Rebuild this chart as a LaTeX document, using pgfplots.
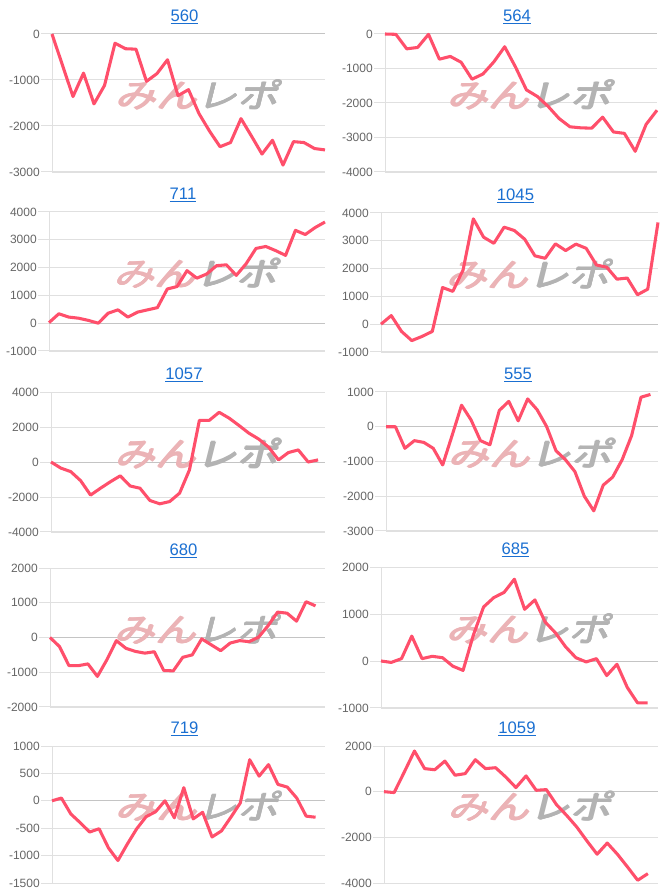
\documentclass[border=0pt]{standalone}
\usepackage{pgfplots}
\pgfplotsset{compat=1.18}
\usepackage{fontspec}
\setmainfont{Liberation Sans}
\newfontfamily\cjk{Noto Sans CJK JP}
\definecolor{linec}{HTML}{FF4F6B}
\definecolor{titleblue}{HTML}{1A6FD1}
\definecolor{tickgray}{HTML}{666666}
\definecolor{gridc}{HTML}{E0E0E0}
\definecolor{basec}{HTML}{C4C4C4}
\definecolor{wmpink}{HTML}{EBB3B6}
\definecolor{wmgray}{HTML}{B3B3B3}
\tikzset{wmnode/.style={xslant=0.25, xscale=1.25, inner sep=0pt}}
\pgfplotsset{
  panel/.style={
    scale only axis, anchor=south west,
    axis lines=left, axis line style={draw=gridc,-},
    xtick=\empty, xmin=0,
    enlargelimits=false, clip=false,
    ymajorgrids, grid style={draw=gridc, line width=0.75pt},
    ytick align=outside, major tick length=8pt,
    tick style={draw=gridc, line width=0.75pt},
    scaled y ticks=false,
    /pgf/number format/assume math mode=true,
    /pgf/number format/1000 sep={},
    yticklabel style={font=\fontsize{9}{10}\selectfont, text=tickgray, inner sep=1pt},
    title style={at={(0.5,1)}, anchor=center, yshift=6.75pt, xshift=-3pt,
      font=\fontsize{12.5}{14}\selectfont, text=titleblue},
    extra y ticks={0}, extra y tick labels={},
    extra y tick style={grid style={draw=basec, line width=0.75pt}},
  },
  series/.style={draw=linec, line width=2.3pt, line join=round, no marks},
}
\newcommand{\wmtext}{\cjk\fontsize{24.5}{24}\selectfont\textcolor{wmpink}{みん}\textcolor{wmgray}{レポ}}
\newcommand{\wm}{%
  \node[wmnode] at (rel axis cs:0.54,0.56) {\wmtext};
  \node[wmnode, xshift=0.5pt] at (rel axis cs:0.54,0.56) {\wmtext};
  \node[wmnode, xshift=1pt] at (rel axis cs:0.54,0.56) {\wmtext};
  \node[wmnode, xshift=0.5pt, yshift=0.45pt] at (rel axis cs:0.54,0.56) {\wmtext};
  \node[wmnode, xshift=0.5pt, yshift=-0.45pt] at (rel axis cs:0.54,0.56) {\wmtext};
}
\begin{document}
\begin{tikzpicture}
\path[use as bounding box] (0,0) rectangle (499.5pt,667.5pt);
% 560
\begin{axis}[panel, at={(39pt,538.5pt)}, width=204.75pt, height=103.5pt,
  xmax=26, ymin=-3000, ymax=0, ytick={-3000,-2000,-1000,0}, title={\underline{560}}]
\wm
\addplot[series] coordinates {(0,0) (1,-680) (2,-1360) (3,-850) (4,-1520) (5,-1120) (6,-200) (7,-320) (8,-330) (9,-1030) (10,-860) (11,-560) (12,-1340) (13,-1210) (14,-1730) (15,-2110) (16,-2450) (17,-2360) (18,-1840) (19,-2220) (20,-2610) (21,-2310) (22,-2850) (23,-2340) (24,-2360) (25,-2490) (26,-2520)};
\end{axis}
% 564
\begin{axis}[panel, at={(288.75pt,538.5pt)}, width=204pt, height=103.5pt,
  xmax=25, ymin=-4000, ymax=0, ytick={-4000,-3000,-2000,-1000,0}, title={\underline{564}}]
\wm
\addplot[series] coordinates {(0,0) (1,-10) (2,-430) (3,-390) (4,-10) (5,-730) (6,-650) (7,-820) (8,-1310) (9,-1160) (10,-810) (11,-370) (12,-960) (13,-1620) (14,-1810) (15,-2100) (16,-2450) (17,-2690) (18,-2720) (19,-2730) (20,-2410) (21,-2840) (22,-2880) (23,-3400) (24,-2620) (25,-2210)};
\end{axis}
% 711
\begin{axis}[panel, at={(36.75pt,404.25pt)}, width=207pt, height=104.25pt,
  xmax=28, ymin=-1000, ymax=4000, ytick={-1000,0,1000,2000,3000,4000}, title={\underline{711}}]
\wm
\addplot[series] coordinates {(0,20) (1,340) (2,220) (3,180) (4,100) (5,0) (6,360) (7,480) (8,220) (9,400) (10,480) (11,560) (12,1230) (13,1320) (14,1890) (15,1620) (16,1770) (17,2070) (18,2100) (19,1720) (20,2140) (21,2690) (22,2760) (23,2610) (24,2440) (25,3340) (26,3190) (27,3440) (28,3640)};
\end{axis}
% 1045
\begin{axis}[panel, at={(285.75pt,403.5pt)}, width=207.75pt, height=104.25pt,
  xmax=27, ymin=-1000, ymax=4000, ytick={-1000,0,1000,2000,3000,4000}, title={\underline{1045}}]
\wm
\addplot[series] coordinates {(0,0) (1,310) (2,-260) (3,-590) (4,-440) (5,-260) (6,1320) (7,1180) (8,1950) (9,3790) (10,3130) (11,2910) (12,3490) (13,3370) (14,3060) (15,2460) (16,2370) (17,2890) (18,2650) (19,2880) (20,2730) (21,2130) (22,2050) (23,1620) (24,1660) (25,1060) (26,1260) (27,3660)};
\end{axis}
% 1057
\begin{axis}[panel, at={(38.25pt,268.5pt)}, width=205.5pt, height=105pt,
  xmax=27.7, ymin=-4000, ymax=4000, ytick={-4000,-2000,0,2000,4000}, title={\underline{1057}}]
\wm
\addplot[series] coordinates {(0,0) (1,-350) (2,-550) (3,-1070) (4,-1890) (5,-1500) (6,-1130) (7,-790) (8,-1370) (9,-1500) (10,-2200) (11,-2390) (12,-2260) (13,-1780) (14,-450) (15,2380) (16,2380) (17,2840) (18,2510) (19,2090) (20,1650) (21,1310) (22,850) (23,120) (24,540) (25,690) (26,0) (27,120)};
\end{axis}
% 555
\begin{axis}[panel, at={(289.5pt,269.25pt)}, width=204pt, height=104.25pt,
  xmax=28.8, ymin=-3000, ymax=1000, ytick={-3000,-2000,-1000,0,1000}, title={\underline{555}}]
\wm
\addplot[series] coordinates {(0,0) (1,0) (2,-620) (3,-400) (4,-450) (5,-620) (6,-1100) (7,-250) (8,620) (9,200) (10,-400) (11,-520) (12,470) (13,730) (14,170) (15,800) (16,490) (17,10) (18,-690) (19,-950) (20,-1290) (21,-2000) (22,-2420) (23,-1680) (24,-1450) (25,-950) (26,-260) (27,850) (28,930)};
\end{axis}
% 680
\begin{axis}[panel, at={(37.5pt,137.25pt)}, width=206.25pt, height=104.25pt,
  xmax=29, ymin=-2000, ymax=2000, ytick={-2000,-1000,0,1000,2000}, title={\underline{680}}]
\wm
\addplot[series] coordinates {(0,0) (1,-260) (2,-810) (3,-810) (4,-760) (5,-1120) (6,-640) (7,-90) (8,-310) (9,-400) (10,-450) (11,-410) (12,-950) (13,-960) (14,-570) (15,-500) (16,-40) (17,-210) (18,-380) (19,-160) (20,-90) (21,-120) (22,10) (23,340) (24,730) (25,700) (26,470) (27,1030) (28,910)};
\end{axis}
% 685
\begin{axis}[panel, at={(285.75pt,136.5pt)}, width=207.75pt, height=105.75pt,
  xmax=27, ymin=-1000, ymax=2000, ytick={-1000,0,1000,2000}, title={\underline{685}}]
\wm
\addplot[series] coordinates {(0,0) (1,-30) (2,50) (3,530) (4,50) (5,100) (6,70) (7,-110) (8,-200) (9,550) (10,1150) (11,1350) (12,1460) (13,1740) (14,1100) (15,1300) (16,830) (17,600) (18,300) (19,70) (20,-20) (21,50) (22,-310) (23,-70) (24,-560) (25,-890) (26,-890)};
\end{axis}
% 719
\begin{axis}[panel, at={(39pt,5.25pt)}, width=204.75pt, height=102.75pt,
  xmax=29, ymin=-1500, ymax=1000, ytick={-1500,-1000,-500,0,500,1000}, title={\underline{719}}]
\wm
\addplot[series] coordinates {(0,0) (1,50) (2,-240) (3,-400) (4,-570) (5,-510) (6,-860) (7,-1090) (8,-790) (9,-510) (10,-290) (11,-200) (12,0) (13,-310) (14,240) (15,-330) (16,-210) (17,-660) (18,-550) (19,-300) (20,-40) (21,750) (22,450) (23,660) (24,300) (25,250) (26,50) (27,-280) (28,-300)};
\end{axis}
% 1059
\begin{axis}[panel, at={(288pt,5.25pt)}, width=205.5pt, height=102.75pt,
  xmax=27, ymin=-4000, ymax=2000, ytick={-4000,-2000,0,2000}, title={\underline{1059}}]
\wm
\addplot[series] coordinates {(0,0) (1,-40) (2,860) (3,1780) (4,1010) (5,960) (6,1340) (7,720) (8,790) (9,1400) (10,1010) (11,1050) (12,640) (13,180) (14,690) (15,60) (16,90) (17,-570) (18,-1040) (19,-1550) (20,-2160) (21,-2740) (22,-2250) (23,-2740) (24,-3300) (25,-3880) (26,-3590)};
\end{axis}
\end{tikzpicture}
\end{document}
